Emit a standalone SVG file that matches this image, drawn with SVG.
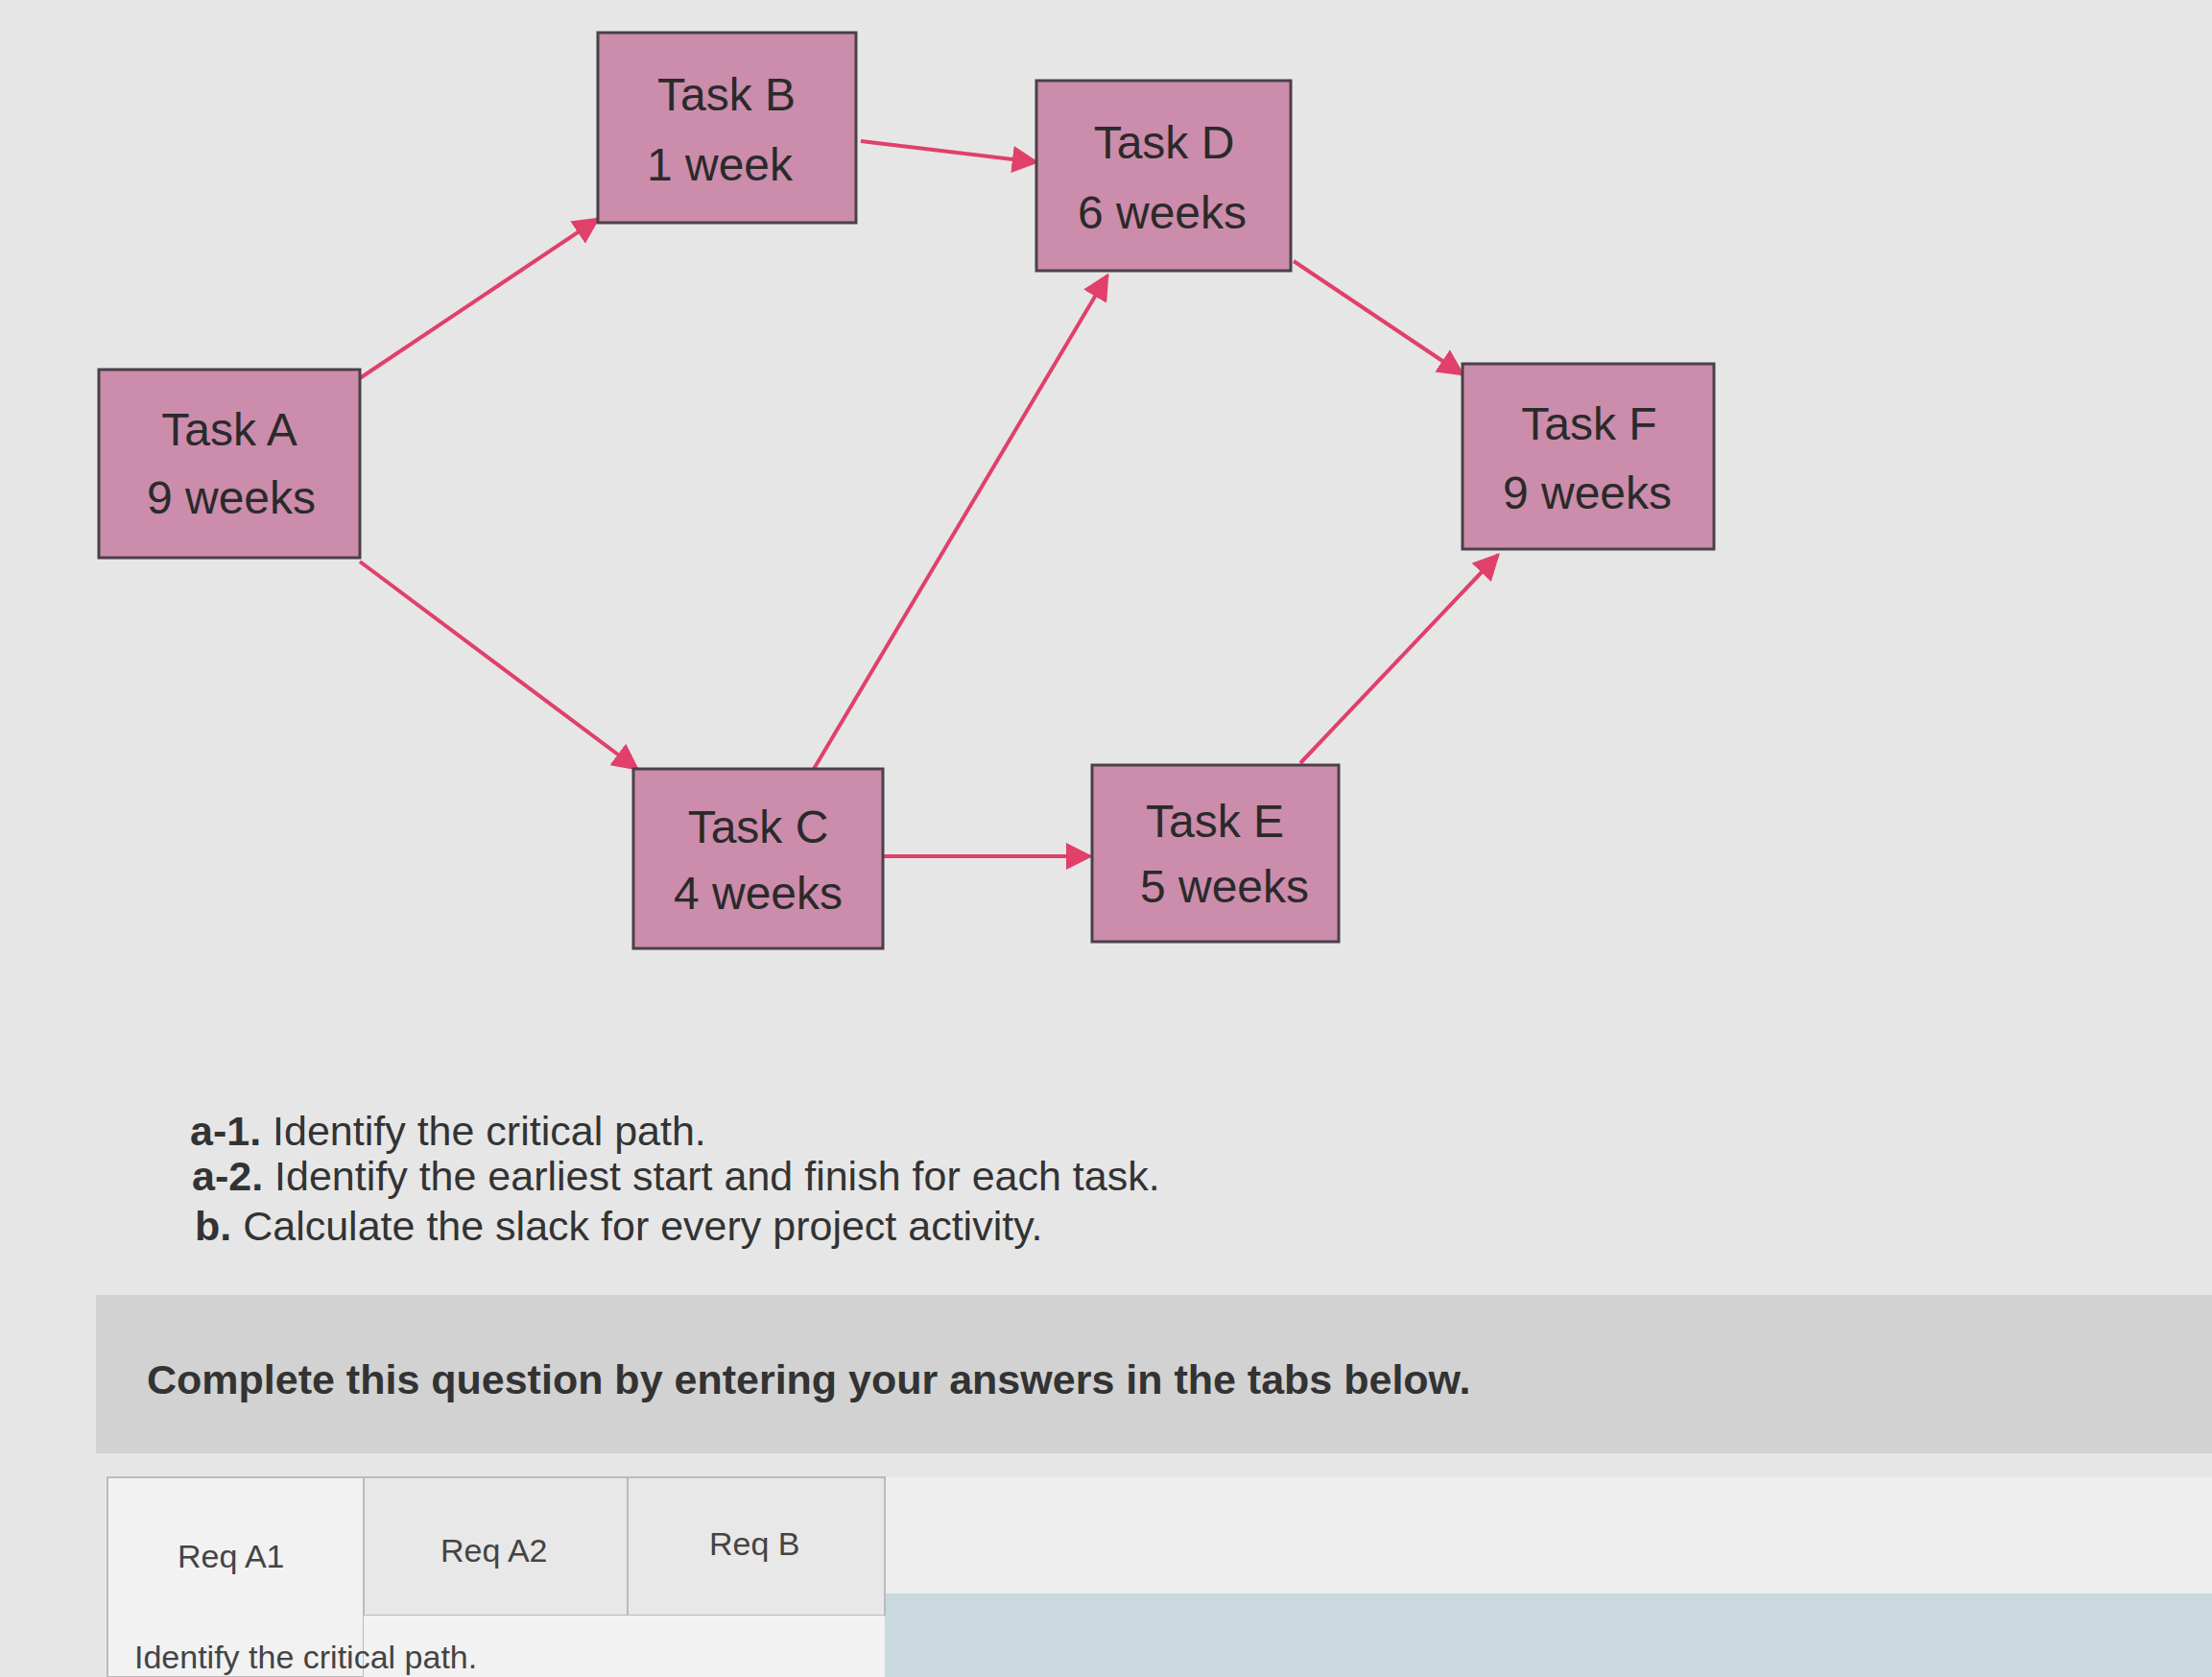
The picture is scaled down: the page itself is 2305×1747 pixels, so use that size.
<svg xmlns="http://www.w3.org/2000/svg" width="2305" height="1747" viewBox="0 0 2305 1747">
<defs>
<marker id="ah" viewBox="0 0 10 10" refX="9" refY="5" markerWidth="7" markerHeight="7" orient="auto"><path d="M0,0 L10,5 L0,10 z" fill="#e0406a"/></marker>
<style>
.n rect{fill:#cc8cab;stroke:#4a4048;stroke-width:3}
.n text{font-family:"Liberation Sans",sans-serif;font-size:48px;fill:#2a2a2a;text-anchor:middle}
.c line{stroke:#e0406a;stroke-width:4;marker-end:url(#ah)}
.q{font-family:"Liberation Sans",sans-serif;font-size:43px;fill:#333}
.t{font-family:"Liberation Sans",sans-serif;font-size:34px;fill:#444}
</style>
</defs>
<rect width="2305" height="1747" fill="#e6e6e6"/>
<g class="c">
<line x1="375" y1="394" x2="623" y2="228"/>
<line x1="897" y1="147" x2="1080" y2="169"/>
<line x1="1348" y1="272" x2="1524" y2="390"/>
<line x1="375" y1="585" x2="664" y2="801"/>
<line x1="848" y1="801" x2="1154" y2="287"/>
<line x1="920" y1="892" x2="1136" y2="892"/>
<line x1="1355" y1="795" x2="1561" y2="578"/>
</g>
<g id="taskB" class="n"><rect x="623" y="34" width="269" height="198"/><text x="757" y="115">Task B</text><text x="750" y="188">1 week</text></g>
<g id="taskD" class="n"><rect x="1080" y="84" width="265" height="198"/><text x="1213" y="165">Task D</text><text x="1211" y="238">6 weeks</text></g>
<g id="taskA" class="n"><rect x="103" y="385" width="272" height="196"/><text x="239" y="464">Task A</text><text x="241" y="535">9 weeks</text></g>
<g id="taskF" class="n"><rect x="1524" y="379" width="262" height="193"/><text x="1656" y="458">Task F</text><text x="1654" y="530">9 weeks</text></g>
<g id="taskC" class="n"><rect x="660" y="801" width="260" height="187"/><text x="790" y="878">Task C</text><text x="790" y="947">4 weeks</text></g>
<g id="taskE" class="n"><rect x="1138" y="797" width="257" height="184"/><text x="1266" y="872">Task E</text><text x="1276" y="940">5 weeks</text></g>
<text class="q" x="198" y="1193"><tspan font-weight="bold">a-1.</tspan> Identify the critical path.</text>
<text class="q" x="200" y="1240"><tspan font-weight="bold">a-2.</tspan> Identify the earliest start and finish for each task.</text>
<text class="q" x="203" y="1292"><tspan font-weight="bold">b.</tspan> Calculate the slack for every project activity.</text>
<rect x="100" y="1349" width="2205" height="165" fill="#d2d2d2"/>
<text class="q" x="153" y="1452" font-weight="bold" font-size="42">Complete this question by entering your answers in the tabs below.</text>
<rect x="922" y="1539" width="1383" height="208" fill="#eeeeee"/>
<rect x="922" y="1660" width="1383" height="87" fill="#c9d9dd"/>
<rect x="112" y="1539" width="267" height="208" fill="#f2f2f2" stroke="#bbb" stroke-width="2"/>
<rect x="379" y="1539" width="275" height="144" fill="#e8e8e8" stroke="#bbb" stroke-width="2"/>
<rect x="654" y="1539" width="268" height="144" fill="#e8e8e8" stroke="#bbb" stroke-width="2"/>
<rect x="379" y="1683" width="543" height="64" fill="#f2f2f2"/>
<text class="t" x="185" y="1633">Req A1</text>
<text class="t" x="459" y="1627">Req A2</text>
<text class="t" x="739" y="1620">Req B</text>
<text class="t" x="140" y="1738">Identify the critical path.</text>
</svg>
